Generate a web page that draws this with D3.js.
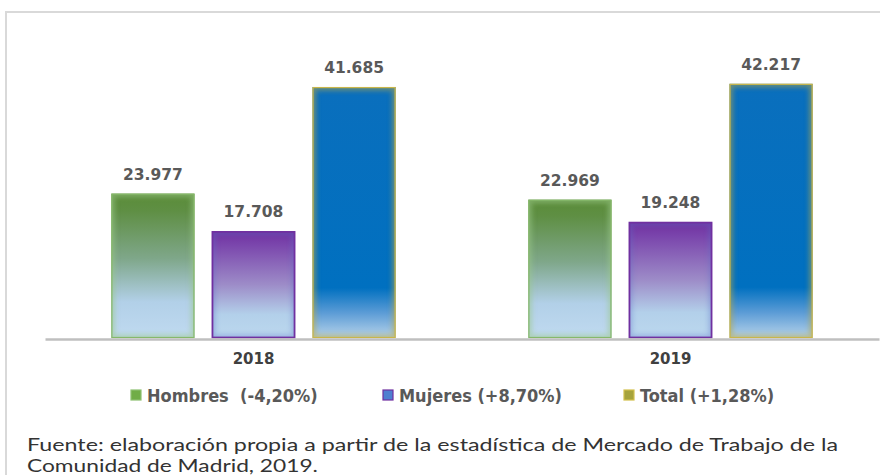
<!DOCTYPE html>
<html>
<head>
<meta charset="utf-8">
<script src="https://cdn.jsdelivr.net/npm/d3@7"></script>
<style>
  body { margin: 0; background: #fff; }
  svg { display: block; }
</style>
</head>
<body>
<svg id="chart"></svg>
<script>
const years = ["2018", "2019"];
const series = ["Hombres", "Mujeres", "Total"];
const legendLabels = ["Hombres  (-4,20%)", "Mujeres (+8,70%)", "Total (+1,28%)"];
const hombres = [23977, 22969];
const mujeres = [17708, 19248];
const total = [41685, 42217];
const sourceLines = [
  "Fuente: elaboración propia a partir de la estadística de Mercado de Trabajo de la",
  "Comunidad de Madrid, 2019."
];

const W = 880, H = 475;
const baseY = 338;

const svg = d3.select("#chart").attr("width", W).attr("height", H);
const defs = svg.append("defs");

// chart frame (runs off the right and bottom edges)
svg.append("rect")
  .attr("x", 6).attr("y", 12)
  .attr("width", 900).attr("height", 500)
  .attr("fill", "none")
  .attr("stroke", "#d9d9d9")
  .attr("stroke-width", 2);

// gradients per series
const grads = {
  Hombres: [["0%", "#5a8c38"], ["12%", "#5f8f44"], ["45%", "#7fa78a"], ["75%", "#b2d0e8"], ["100%", "#c0daf0"]],
  Mujeres: [["0%", "#7030a0"], ["12%", "#7a45ac"], ["50%", "#9d8cc8"], ["78%", "#b3d0ea"], ["100%", "#bcd8ee"]],
  Total:   [["0%", "#0a6fbd"], ["80%", "#0070c0"], ["90%", "#5c9cd6"], ["100%", "#b8d4ea"]]
};
const edgeColor = { Hombres: "#86b86a", Mujeres: "#7030a0", Total: "#c9b64a" };
const glowColor = { Hombres: "#9cc88a", Mujeres: "#5a6fc8", Total: "#b7a84a" };

series.forEach(s => {
  const g = defs.append("linearGradient")
    .attr("id", "grad-" + s)
    .attr("x1", 0).attr("y1", 0).attr("x2", 0).attr("y2", 1);
  grads[s].forEach(([o, c]) => g.append("stop").attr("offset", o).attr("stop-color", c));
});

defs.append("filter").attr("id", "blur")
  .attr("x", "-20%").attr("y", "-20%").attr("width", "140%").attr("height", "140%")
  .append("feGaussianBlur").attr("stdDeviation", 2.5);

const rows = [];
years.forEach((yr, i) => {
  rows.push({ year: yr, key: "Hombres", value: hombres[i] });
  rows.push({ year: yr, key: "Mujeres", value: mujeres[i] });
  rows.push({ year: yr, key: "Total", value: total[i] });
});

const x0 = d3.scaleBand().domain(years).range([45, 879]).padding(0);
const x1 = d3.scaleBand().domain(series).range([0, x0.bandwidth()])
  .paddingInner(0.174).paddingOuter(0.66);
const y = d3.scaleLinear().domain([0, 50000]).range([baseY, 37]);

const fmt = v => d3.format(",")(v).replace(/,/g, ".");

const bars = svg.append("g").selectAll("g.bar")
  .data(rows)
  .join("g")
  .attr("class", "bar");

bars.each(function(d, i) {
  const g = d3.select(this);
  const bx = x0(d.year) + x1(d.key);
  const by = y(d.value);
  const bw = x1.bandwidth();
  const bh = baseY - by;
  const clipId = "clip" + i;
  defs.append("clipPath").attr("id", clipId)
    .append("rect").attr("x", bx).attr("y", by).attr("width", bw).attr("height", bh);

  g.append("rect")
    .attr("x", bx).attr("y", by).attr("width", bw).attr("height", bh)
    .attr("fill", `url(#grad-${d.key})`);

  // soft inner glow
  g.append("rect")
    .attr("clip-path", `url(#${clipId})`)
    .attr("x", bx).attr("y", by).attr("width", bw).attr("height", bh)
    .attr("fill", "none")
    .attr("stroke", glowColor[d.key])
    .attr("stroke-width", 7)
    .attr("opacity", d.key === "Mujeres" ? 0.35 : 0.55)
    .attr("filter", "url(#blur)");

  g.append("rect")
    .attr("x", bx + 0.5).attr("y", by + 0.5).attr("width", bw - 1).attr("height", bh - 1)
    .attr("fill", "none")
    .attr("stroke", edgeColor[d.key])
    .attr("stroke-width", d.key === "Mujeres" ? 1.8 : 1.2);
});

// value labels
svg.append("g").selectAll("text")
  .data(rows)
  .join("text")
  .attr("x", d => x0(d.year) + x1(d.key) + x1.bandwidth() / 2)
  .attr("y", d => y(d.value) - 14)
  .attr("text-anchor", "middle")
  .attr("font-family", "DejaVu Sans, sans-serif")
  .attr("font-weight", "bold")
  .attr("font-size", 15.5)
  .attr("fill", "#595959")
  .text(d => fmt(d.value));

// baseline / x axis
const xAxis = d3.axisBottom(x0).tickSize(0).tickPadding(14);
const axisG = svg.append("g")
  .attr("transform", `translate(0, ${baseY + 1})`)
  .call(xAxis);
axisG.select(".domain")
  .attr("stroke", "#bfbfbf")
  .attr("stroke-width", 2.5);
axisG.selectAll("text")
  .attr("font-family", "DejaVu Sans, sans-serif")
  .attr("font-weight", "bold")
  .attr("font-size", 15)
  .attr("fill", "#404040");

// legend
const legendX = [131, 383, 624];
const legendSwatch = { Hombres: "#70ad47", Mujeres: "#4f7fd0", Total: "#a6a33c" };
const legendStroke = { Hombres: "#8cc070", Mujeres: "#7030a0", Total: "#d2c04c" };
const legend = svg.append("g").selectAll("g")
  .data(series)
  .join("g")
  .attr("transform", (d, i) => `translate(${legendX[i]}, 395)`);

legend.append("rect")
  .attr("x", 0).attr("y", -5).attr("width", 10).attr("height", 10)
  .attr("fill", d => legendSwatch[d])
  .attr("stroke", d => legendStroke[d])
  .attr("stroke-width", 1.2);

legend.append("text")
  .attr("x", 16).attr("y", 6.5)
  .attr("font-family", "'Liberation Sans Narrow', 'DejaVu Sans Condensed', sans-serif")
  .attr("font-weight", "bold")
  .attr("font-size", 18)
  .attr("fill", "#595959")
  .style("white-space", "pre")
  .text((d, i) => legendLabels[i]);

// source note (stretched to the width of the original's wide font)
const sourceWidth = [811, 291];
svg.append("g").selectAll("text")
  .data(sourceLines)
  .join("text")
  .attr("x", 27)
  .attr("y", (d, i) => 451 + i * 21)
  .attr("font-family", "Lato, sans-serif")
  .attr("font-size", 18)
  .attr("fill", "#333333")
  .attr("textLength", (d, i) => sourceWidth[i])
  .attr("lengthAdjust", "spacingAndGlyphs")
  .text(d => d);
</script>
</body>
</html>
